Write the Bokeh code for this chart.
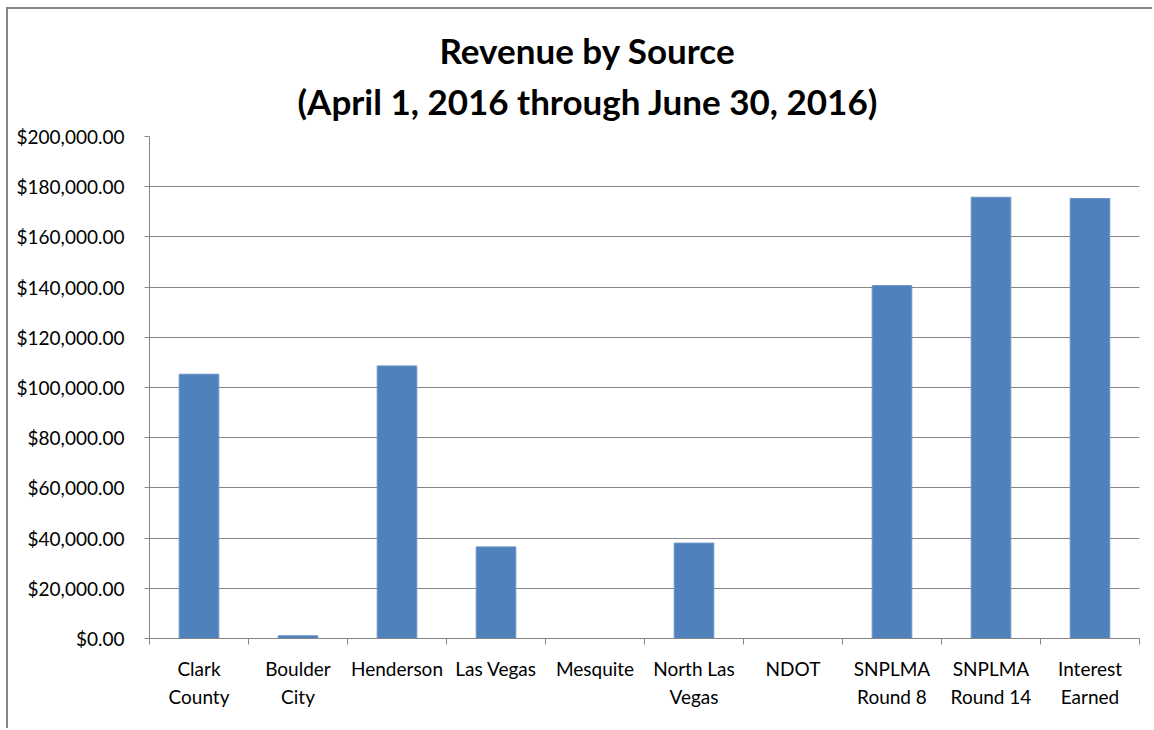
from bokeh.plotting import figure
from bokeh.models import (Range1d, LinearAxis, FixedTicker, ColumnDataSource,
                          NumeralTickFormatter, Title, SingleIntervalTicker)
from bokeh.embed import file_html
from bokeh.resources import INLINE

categories = ["Clark County", "Boulder City", "Henderson", "Las Vegas", "Mesquite",
              "North Las Vegas", "NDOT", "SNPLMA Round 8", "SNPLMA Round 14", "Interest Earned"]
tick_labels = ["Clark\nCounty", "Boulder\nCity", "Henderson", "Las Vegas", "Mesquite",
               "North Las\nVegas", "NDOT", "SNPLMA\nRound 8", "SNPLMA\nRound 14", "Interest\nEarned"]
revenue = [105300, 1100, 108600, 36500, 0, 38000, 0, 140600, 175800, 175300]
title_lines = ["Revenue by Source", "(April 1, 2016 through June 30, 2016)"]

FONT = "Lato"
GRAY = "#868686"
W, H = 1146, 721
BL, BR, BT, BB = 141, 15, 127, 92

n = len(categories)
centers = [i + 0.5 for i in range(n)]
src = ColumnDataSource(dict(x=centers, top=revenue, cat=categories))

p = figure(width=W, height=H, x_range=Range1d(0, n),
           y_range=Range1d(0, 200000), output_backend="svg", toolbar_location=None,
           title=None, x_axis_location=None, y_axis_location=None,
           min_border_left=BL, min_border_right=BR, min_border_top=BT, min_border_bottom=BB)
p.margin = (7, 0, 0, 6)
p.styles = {"border-left": "2px solid #868686", "border-top": "2px solid #868686"}
p.outline_line_color = None
p.background_fill_color = "white"
p.border_fill_color = "white"

p.vbar(x="x", top="top", width=0.4, source=src, fill_color="#4F81BD", line_color="#6A93C6", line_width=1)

# y axis
yax = LinearAxis(ticker=SingleIntervalTicker(interval=20000),
                 formatter=NumeralTickFormatter(format="$0,0.00"))
yax.axis_line_color = GRAY
yax.major_tick_line_color = GRAY
yax.major_tick_in = 0
yax.major_tick_out = 5
yax.minor_tick_line_color = None
yax.major_label_text_font = FONT
yax.major_label_text_font_size = "19px"
yax.major_label_text_color = "black"
yax.major_label_standoff = 20
p.add_layout(yax, "left")

# x tick marks at category boundaries
tax = LinearAxis(ticker=FixedTicker(ticks=list(range(n + 1))))
tax.axis_line_color = GRAY
tax.major_tick_line_color = GRAY
tax.major_tick_in = 0
tax.major_tick_out = 6
tax.minor_tick_line_color = None
tax.major_label_text_font_size = "0px"
tax.major_label_standoff = 0
p.add_layout(tax, "below")

# x category labels
xax = LinearAxis(ticker=FixedTicker(ticks=centers))
xax.axis_line_color = None
xax.major_tick_line_color = None
xax.minor_tick_line_color = None
xax.major_label_overrides = dict(zip(centers, tick_labels))
xax.major_label_text_font = FONT
xax.major_label_text_font_size = "19px"
xax.major_label_text_color = "black"
xax.major_label_text_line_height = 1.22
xax.major_label_standoff = 6
p.add_layout(xax, "below")

p.xgrid.grid_line_color = None
p.ygrid.grid_line_color = GRAY
p.ygrid.ticker = SingleIntervalTicker(interval=20000)

# two-line title, left aligned with an offset so it is centred over the whole chart
t2 = Title(text=title_lines[1], align="left", offset=148, text_font=FONT, text_font_size="35px",
           text_font_style="bold", text_color="black", standoff=30)
t1 = Title(text=title_lines[0], align="left", offset=290, text_font=FONT, text_font_size="35px",
           text_font_style="bold", text_color="black", standoff=-16)
p.add_layout(t2, "above")
p.add_layout(t1, "above")

open("out.html", "w").write(file_html(p, INLINE))
